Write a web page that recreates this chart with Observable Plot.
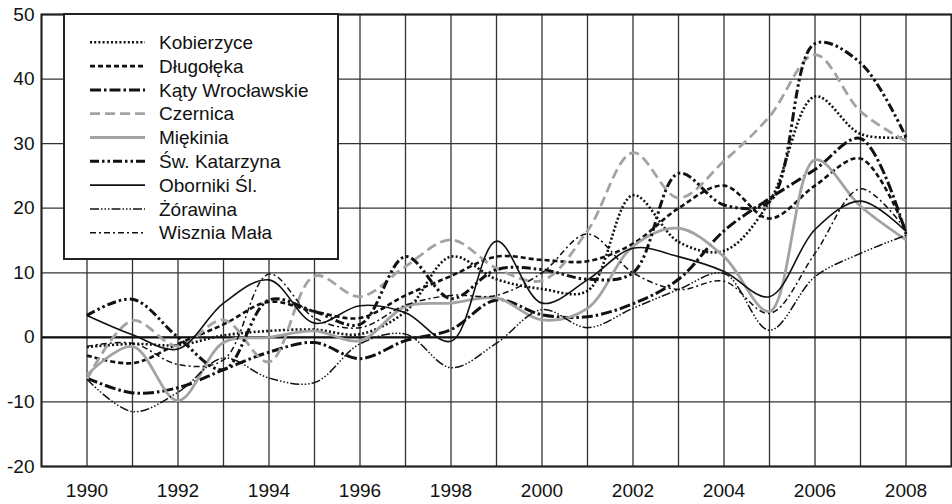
<!DOCTYPE html>
<html>
<head>
<meta charset="utf-8">
<script src="https://cdn.jsdelivr.net/npm/d3@7"></script>
<script src="https://cdn.jsdelivr.net/npm/@observablehq/plot@0.6"></script>
<style>
  html, body { margin: 0; padding: 0; background: #fff; }
  #chart { width: 952px; height: 504px; overflow: hidden; }
</style>
</head>
<body>
<div id="chart"></div>
<script>
const years = [1990,1991,1992,1993,1994,1995,1996,1997,1998,1999,2000,2001,2002,2003,2004,2005,2006,2007,2008];
const kobierzyce  = [-1.5, -1, -1.2, 0.3, 1, 1.2, 0.5, 4, 12.5, 9, 7.5, 7.2, 22, 14.8, 13.4, 21, 37.3, 31.5, 31];
const dlugoleka   = [-2.8, -4, -1, 2, 5.5, 4, 3, 6.5, 9.5, 12.5, 12, 11.8, 14.5, 20, 23.5, 18.4, 23.5, 27.7, 16.5];
const katy        = [-6.3, -8.6, -7.8, -5, -2.3, -0.8, -3.3, -0.5, 1.2, 5.8, 3.5, 3.2, 5.2, 9, 16.5, 21.5, 26, 30.8, 16];
const czernica    = [-6.5, 2.6, -1.4, 2.7, -3.8, 9.5, 6.3, 11, 15.1, 10.7, 8.8, 16.5, 28.6, 21.6, 27.3, 34.2, 43.8, 35, 30.4];
const miekinia    = [-5.8, -1.4, -9.8, -0.8, 0, 1, -0.5, 4.8, 5.3, 6.1, 2.7, 4.5, 14.1, 16.9, 12.5, 4, 27.5, 20.3, 15.1];
const swKatarzyna = [3.4, 5.9, 0, -5, 5.8, 4, 2, 12.5, 6, 10.5, 10.5, 9, 10, 25.4, 20.5, 21, 45.5, 42.5, 31];
const oborniki    = [3.4, 0.4, -1.8, 5.3, 8.9, 2.2, 4.9, 3.8, -0.6, 14.9, 5.3, 8.9, 13.8, 12.5, 10.2, 6.3, 16.7, 21.1, 16.4];
const zorawina    = [-6.5, -11.5, -8.5, -3.2, -6.3, -7, -1, 0.5, -4.7, -0.9, 4.3, 1.5, 4.5, 7.4, 9.9, 1.1, 9.4, 13, 15.8];
const wisznia     = [-1.4, -0.9, -4.2, -3.5, 9.8, 3, 1.5, 5, 6.5, 6.5, 10, 16, 10, 7.4, 8.7, 3.7, 13, 23, 16.6];

const xTickLabels = [1990,1992,1994,1996,1998,2000,2002,2004,2006,2008];
const yTickLabels = [-20,-10,0,10,20,30,40,50];
const gridYears = [1989,1990,1991,1992,1993,1994,1995,1996,1997,1998,1999,2000,2001,2002,2003,2004,2005,2006,2007,2008,2009];

const seriesDefs = [
  {name: "Kobierzyce",        values: kobierzyce,  stroke: "#111", width: 2.6, dash: "2,2.2"},
  {name: "Długołęka",         values: dlugoleka,   stroke: "#111", width: 2.6, dash: "5,3"},
  {name: "Kąty Wrocławskie",  values: katy,        stroke: "#111", width: 3,   dash: "11,3,2.5,3"},
  {name: "Czernica",          values: czernica,    stroke: "#a3a3a3", width: 2.8, dash: "10,5"},
  {name: "Miękinia",          values: miekinia,    stroke: "#a3a3a3", width: 2.8, dash: null},
  {name: "Św. Katarzyna",     values: swKatarzyna, stroke: "#111", width: 3,   dash: "9,3,2.5,3,2.5,3"},
  {name: "Oborniki Śl.",      values: oborniki,    stroke: "#111", width: 1.6, dash: null},
  {name: "Żórawina",          values: zorawina,    stroke: "#111", width: 1.5, dash: "9,2,1.5,2,1.5,2,1.5,2"},
  {name: "Wisznia Mała",      values: wisznia,     stroke: "#111", width: 1.5, dash: "6,3,2,3"}
];

const FONT = "'Liberation Sans', Arial, Helvetica, sans-serif";

const lineMarks = seriesDefs.map(s => Plot.line(
  years.map((yr, i) => ({year: yr, value: s.values[i]})),
  {x: "year", y: "value", curve: "catmull-rom", stroke: s.stroke, strokeWidth: s.width,
   strokeDasharray: s.dash || undefined, strokeLinecap: "butt"}
));

const plot = Plot.plot({
  width: 952,
  height: 504,
  marginLeft: 41,
  marginRight: 1,
  marginTop: 14,
  marginBottom: 38,
  style: {fontFamily: FONT, fontSize: "19px", background: "#fff", color: "#111"},
  x: {domain: [1989, 2009]},
  y: {domain: [-20, 50]},
  marks: [
    Plot.gridX(gridYears, {stroke: "#333", strokeOpacity: 1, strokeWidth: 1.3}),
    Plot.gridY(yTickLabels, {stroke: "#333", strokeOpacity: 1, strokeWidth: 1.3}),
    Plot.ruleY([0], {stroke: "#111", strokeWidth: 2.2}),
    ...lineMarks,
    Plot.axisX(xTickLabels, {tickSize: 0, tickPadding: 17, tickFormat: d => String(d), fontSize: 19, fill: "#111", label: null}),
    Plot.axisY(yTickLabels, {tickSize: 0, tickPadding: 7, tickFormat: d => String(d), fontSize: 19, fill: "#111", label: null}),
    Plot.frame({stroke: "#222", strokeWidth: 2})
  ]
});

document.getElementById("chart").appendChild(plot);

// Legend box drawn on top of the grid
const svg = d3.select(plot.tagName.toLowerCase() === "svg" ? plot : plot.querySelector("svg"));
const lg = svg.append("g").attr("text-anchor", "start");
lg.append("rect").attr("x", 64).attr("y", 14).attr("width", 274).attr("height", 245)
  .attr("fill", "#fff").attr("stroke", "#222").attr("stroke-width", 2);
seriesDefs.forEach((s, i) => {
  const cy = 42.3 + i * 23.8;
  lg.append("line").attr("x1", 90).attr("x2", 145).attr("y1", cy).attr("y2", cy)
    .attr("stroke", s.stroke).attr("stroke-width", s.width)
    .attr("stroke-dasharray", s.dash || null);
  lg.append("text").attr("x", 159).attr("y", cy).attr("dy", "0.35em")
    .attr("text-anchor", "start")
    .attr("font-family", FONT).attr("font-size", 19).attr("fill", "#111").text(s.name);
});
</script>
</body>
</html>
